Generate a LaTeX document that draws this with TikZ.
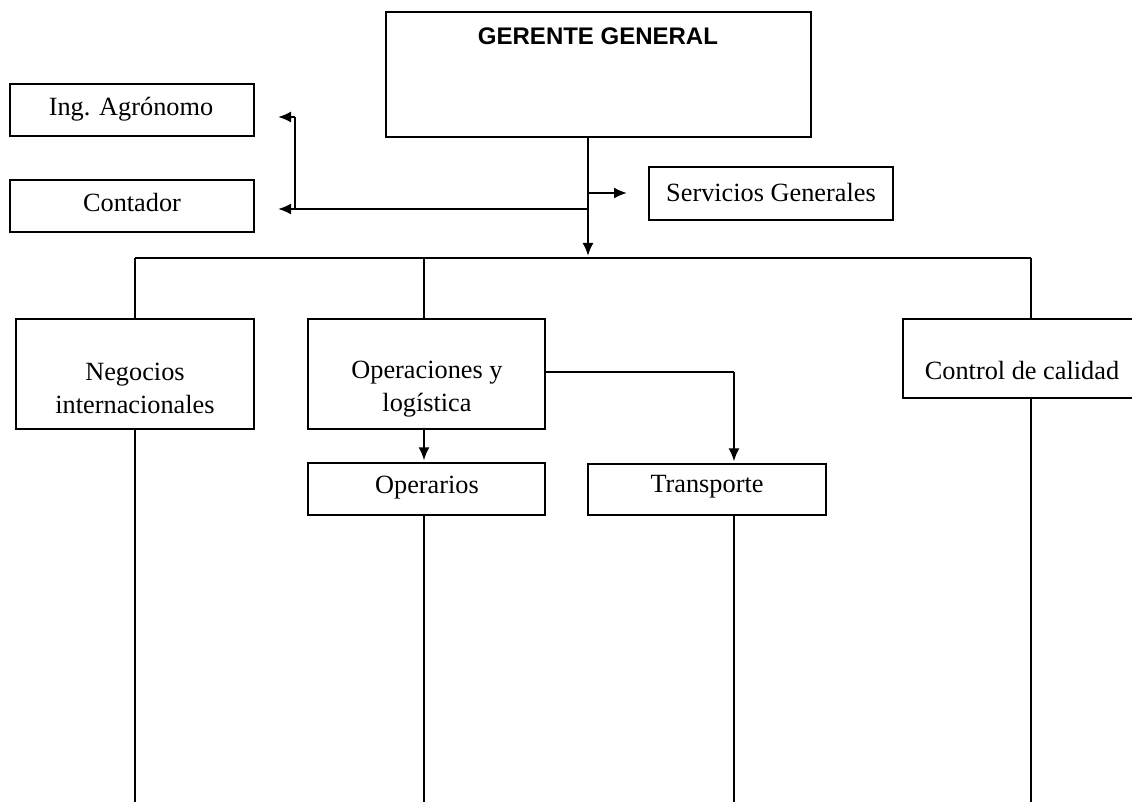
\documentclass[tikz,border=0pt]{standalone}
\usepackage{fontspec}
\setmainfont{Liberation Serif}
\newfontfamily\arialbold{Liberation Sans}[BoldFont={Liberation Sans Bold}]
\usetikzlibrary{arrows.meta}
\tikzset{
  unitbox/.style={draw, line width=0.6pt, inner sep=0pt},
  lbl/.style={inner sep=0pt, align=center, font=\fontsize{13.15}{16.5}\selectfont},
  link/.style={line width=0.75pt},
  arrowlink/.style={line width=1pt, -{Latex[length=6.5pt,width=5.5pt]}},
}
% place a rectangle from its corners (x1,y1)-(x2,y2)
\newcommand{\orgbox}[5]{%
  \node[unitbox, minimum width={(#4-#2)*0.5pt}, minimum height={(#5-#3)*0.5pt}]
    (#1) at ({(#2+#4)/2},{(#3+#5)/2}) {};}
\begin{document}
\begin{tikzpicture}[x=0.5pt,y=-0.5pt]
\useasboundingbox (0,0) rectangle (1132,802);

% boxes
\orgbox{gg}{386}{12}{811}{137}
\orgbox{agro}{10}{84}{254}{136}
\orgbox{cont}{10}{180}{254}{232}
\orgbox{serv}{649}{167}{893}{220}
\orgbox{neg}{16}{319}{254}{429}
\orgbox{ops}{308}{319}{545}{429}
\orgbox{oper}{308}{463}{545}{515}
\orgbox{trans}{588}{464}{826}{515}
\orgbox{cal}{903}{319}{1150}{398}

% labels
\node[inner sep=0pt, font=\arialbold\bfseries\fontsize{12}{14}\selectfont] (ggt) at (598,36) {GERENTE GENERAL};
\node[lbl] (agrot) at (131,109) {Ing. Agrónomo};
\node[lbl] (contt) at (132,203) {Contador};
\node[lbl] (servt) at (771,193) {Servicios Generales};
\node[lbl] (negt) at (135,388) {Negocios\\internacionales};
\node[lbl] (opst) at (427,389) {Operaciones y\\logística};
\node[lbl] (opert) at (427,488) {Operarios};
\node[lbl] (transt) at (707,487) {Transporte};
\node[lbl] (calt) at (1022,371) {Control de calidad};

% junction points
\coordinate (top) at (588,137);
\coordinate (jserv) at (588,193);
\coordinate (jstaff) at (588,209);
\coordinate (jleft) at (295,209);
\coordinate (jup) at (295,117);
\coordinate (servtip) at (627,193);
\coordinate (agrotip) at (278,117);
\coordinate (conttip) at (278,209);
\coordinate (busL) at (135,258);
\coordinate (busM) at (424,258);
\coordinate (busR) at (1031,258);
\coordinate (opsR) at (545,372);
\coordinate (opsT) at (734,372);

% staff connectors
\draw[arrowlink] (top) -- (588,256);
\draw[arrowlink] (jserv) -- (servtip);
\draw[line width=1pt] (jstaff) -- (jleft) -- (jup);
\draw[arrowlink] (jup) -- (agrotip);
\draw[arrowlink] (jleft) -- (conttip);

% line departments
\draw[link] (busL) -- (busR);
\draw[link] (busL) -- (neg.north -| busL);
\draw[link] (busM) -- (ops.north -| busM);
\draw[link] (busR) -- (cal.north -| busR);

% operations
\draw[arrowlink] (ops.south -| busM) -- ([yshift=1pt]oper.north -| busM);
\draw[link] (opsR) -- (opsT);
\draw[arrowlink] (opsT) -- ([yshift=1pt]trans.north -| opsT);

% lines down to the page edge
\draw[link] (neg.south -| busL) -- (135,802);
\draw[link] (oper.south -| busM) -- (424,802);
\draw[link] (trans.south -| opsT) -- (734,802);
\draw[link] (cal.south -| busR) -- (1031,802);
\end{tikzpicture}
\end{document}
